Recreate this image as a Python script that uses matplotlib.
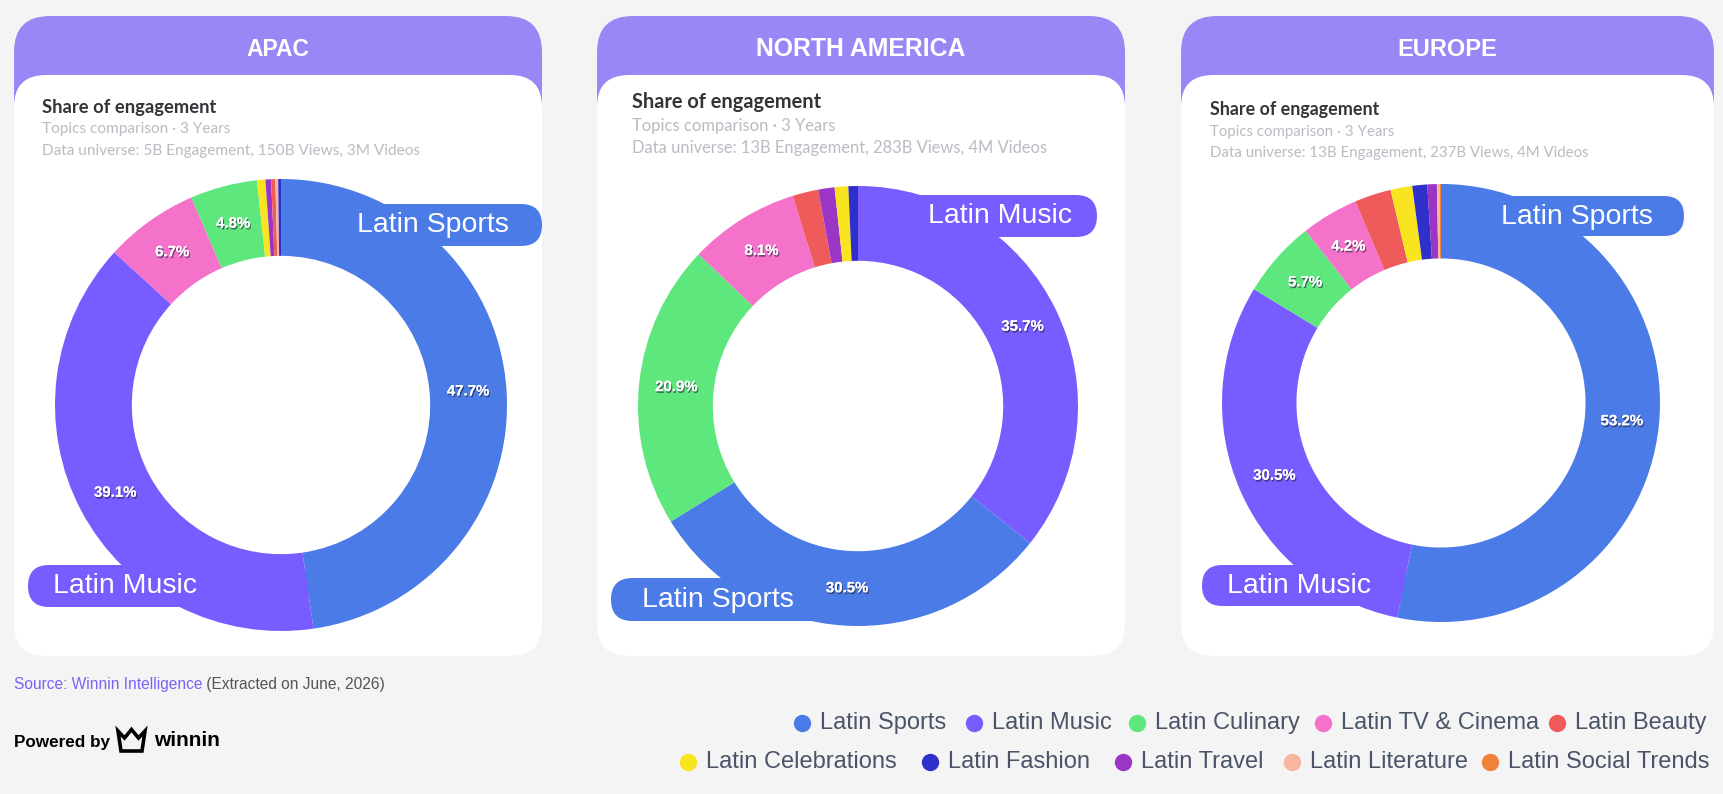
import matplotlib
matplotlib.use("Agg")
import matplotlib.pyplot as plt
from matplotlib.patches import FancyBboxPatch, Polygon
import matplotlib.patheffects as pe

# ---------------- data ----------------
regions = ["APAC", "NORTH AMERICA", "EUROPE"]
universe = ["Data universe: 5B Engagement, 150B Views, 3M Videos",
            "Data universe: 13B Engagement, 283B Views, 4M Videos",
            "Data universe: 13B Engagement, 237B Views, 4M Videos"]

legend_topics = ["Latin Sports", "Latin Music", "Latin Culinary", "Latin TV & Cinema",
                 "Latin Beauty", "Latin Celebrations", "Latin Fashion", "Latin Travel",
                 "Latin Literature", "Latin Social Trends"]
topic_colors = ["#4B7BE6", "#785CFF", "#5EE77C", "#F472CA", "#EF5B5B",
                "#F9E51F", "#2E30C9", "#9B35C5", "#F8B6A1", "#F0823A"]

apac_topics = ["Latin Sports", "Latin Music", "Latin TV & Cinema", "Latin Culinary",
               "Latin Celebrations", "Latin Travel", "Latin Beauty", "Latin Literature",
               "Latin Fashion"]
apac_values = [47.7, 39.1, 6.7, 4.8, 0.6, 0.4, 0.3, 0.2, 0.2]

na_topics = ["Latin Music", "Latin Sports", "Latin Culinary", "Latin TV & Cinema",
             "Latin Beauty", "Latin Travel", "Latin Celebrations", "Latin Fashion"]
na_values = [35.7, 30.5, 20.9, 8.1, 1.9, 1.2, 1.0, 0.7]

eu_topics = ["Latin Sports", "Latin Music", "Latin Culinary", "Latin TV & Cinema",
             "Latin Beauty", "Latin Celebrations", "Latin Fashion", "Latin Travel",
             "Latin Literature", "Latin Social Trends"]
eu_values = [53.2, 30.5, 5.7, 4.2, 2.7, 1.6, 1.1, 0.7, 0.2, 0.1]

apac_callouts = ["Latin Sports", "Latin Music"]
na_callouts = ["Latin Music", "Latin Sports"]
eu_callouts = ["Latin Sports", "Latin Music"]

# ---------------- layout ----------------
W, H = 1724, 794
fig = plt.figure(figsize=(W / 100, H / 100), dpi=100)
fig.patch.set_facecolor("#F4F4F4")


def overlay(z):
    a = fig.add_axes([0, 0, 1, 1], zorder=z)
    a.set_xlim(0, W); a.set_ylim(H, 0); a.axis("off")
    return a


bg = overlay(0)
mid = overlay(3)
fg = overlay(10)

color_of = dict(zip(legend_topics, topic_colors))

cards_x = [(14, 542), (597, 1125), (1181, 1714)]
card_top, white_top, card_bottom = 16, 75, 656
header_fs = [16.5, 17.8, 17.0]
title_x = [42, 632, 1210]
title_y = [107, 102, 110]
sub_dy = [(22, 44), (24, 46), (22, 43)]
title_fs = [13.2, 14.4, 12.9]
sub_fs = [11.1, 11.9, 10.8]

for i, (x0, x1) in enumerate(cards_x):
    bg.add_patch(FancyBboxPatch((x0, card_top), x1 - x0, card_bottom - card_top,
                                boxstyle="round,pad=0,rounding_size=36",
                                fc="#9887F5", ec="none"))
    bg.add_patch(FancyBboxPatch((x0, white_top), x1 - x0, card_bottom - white_top,
                                boxstyle="round,pad=0,rounding_size=32",
                                fc="white", ec="none"))
    bg.text((x0 + x1) / 2, 49, regions[i], color="white", fontsize=header_fs[i],
            fontweight="bold", family="Liberation Sans", ha="center", va="center")
    tx = title_x[i]
    bg.text(tx, title_y[i], "Share of engagement", color="#333338",
            fontsize=title_fs[i], fontweight="bold", family="Lato", ha="left", va="center")
    bg.text(tx, title_y[i] + sub_dy[i][0], "Topics comparison \u00b7 3 Years", color="#BBBBC3",
            fontsize=sub_fs[i], family="Lato", ha="left", va="center")
    bg.text(tx, title_y[i] + sub_dy[i][1], universe[i], color="#BBBBC3",
            fontsize=sub_fs[i], family="Lato", ha="left", va="center")

# ---------------- donuts ----------------
pies = [
    (apac_topics, apac_values, (281, 405), 226),
    (na_topics, na_values, (858, 406), 220),
    (eu_topics, eu_values, (1441, 403), 219),
]
shadow = [pe.withSimplePatchShadow(offset=(0.8, -1.3), shadow_rgbFace="#1E1E3C", alpha=0.6),
          pe.Normal()]
for topics, values, (cx, cy), R in pies:
    ax = fig.add_axes([(cx - R) / W, 1 - (cy + R) / H, 2 * R / W, 2 * R / H], zorder=5)
    wedges, _, autotexts = ax.pie(
        values, colors=[color_of[t] for t in topics], startangle=90, counterclock=False,
        radius=1, wedgeprops=dict(width=0.34, linewidth=0, edgecolor="none"),
        autopct=lambda p: f"{p:.1f}%" if p >= 4 else "", pctdistance=0.83,
        textprops=dict(color="white", fontsize=10.8, fontweight="bold",
                       family="Liberation Sans"))
    for t in autotexts:
        t.set_path_effects(shadow)
    ax.set_xlim(-1, 1); ax.set_ylim(-1, 1)
    ax.axis("off")

# ---------------- callout pills ----------------
pills = [
    (apac_callouts[0], (335, 204, 542, 246), (433, 225), "center"),
    (apac_callouts[1], (28, 565, 310, 607), (53, 586), "left"),
    (na_callouts[0], (855, 195, 1097, 237), (1000, 216), "center"),
    (na_callouts[1], (611, 578, 860, 621), (718, 600), "center"),
    (eu_callouts[0], (1440, 196, 1684, 236), (1577, 217), "center"),
    (eu_callouts[1], (1202, 565, 1407, 606), (1299, 586), "center"),
]
for topic, (x0, y0, x1, y1), (tx, ty), ha in pills:
    mid.add_patch(FancyBboxPatch((x0, y0), x1 - x0, y1 - y0,
                                 boxstyle=f"round,pad=0,rounding_size={(y1 - y0) / 2}",
                                 fc=color_of[topic], ec="none"))
    fg.text(tx, ty, topic, color="white", fontsize=20.5, family="Liberation Sans",
            ha=ha, va="center")

# ---------------- footer ----------------
t1 = fg.text(14, 684, "Source: Winnin Intelligence", color="#7C62F7", fontsize=11.2,
             family="Liberation Sans", ha="left", va="center")
fg.annotate(" (Extracted on June, 2026)", xycoords=t1, xy=(1, 0.5), va="center",
            color="#555555", fontsize=11.2, family="Liberation Sans")

fg.text(14, 742, "Powered by", color="black", fontsize=12.3, fontweight="bold",
        family="Liberation Sans", ha="left", va="center")
crown = [(121, 751), (142, 751), (145, 731), (138.5, 738), (131.5, 729.5),
         (124.5, 738), (118, 731)]
fg.add_patch(Polygon(crown, closed=True, fc="none", ec="black", lw=2.6, joinstyle="miter"))
fg.text(154, 741, "winnin", color="black", fontsize=15, fontweight="bold",
        family="Liberation Sans", ha="left", va="center")

# ---------------- legend ----------------
row1_y, row2_y = 723, 762
legend_x = [802, 974, 1137, 1323, 1557, 688, 930, 1123, 1292, 1490]
for k, (name, col) in enumerate(zip(legend_topics, topic_colors)):
    y = row1_y if k < 5 else row2_y
    x = legend_x[k]
    fg.plot([x], [y], "o", ms=12.5, color=col, mec="none")
    fg.text(x + 18, y, name, color="#4A5468", fontsize=17, family="Liberation Sans",
            ha="left", va="center")

fig.savefig("out.png", dpi=100, facecolor=fig.get_facecolor())
